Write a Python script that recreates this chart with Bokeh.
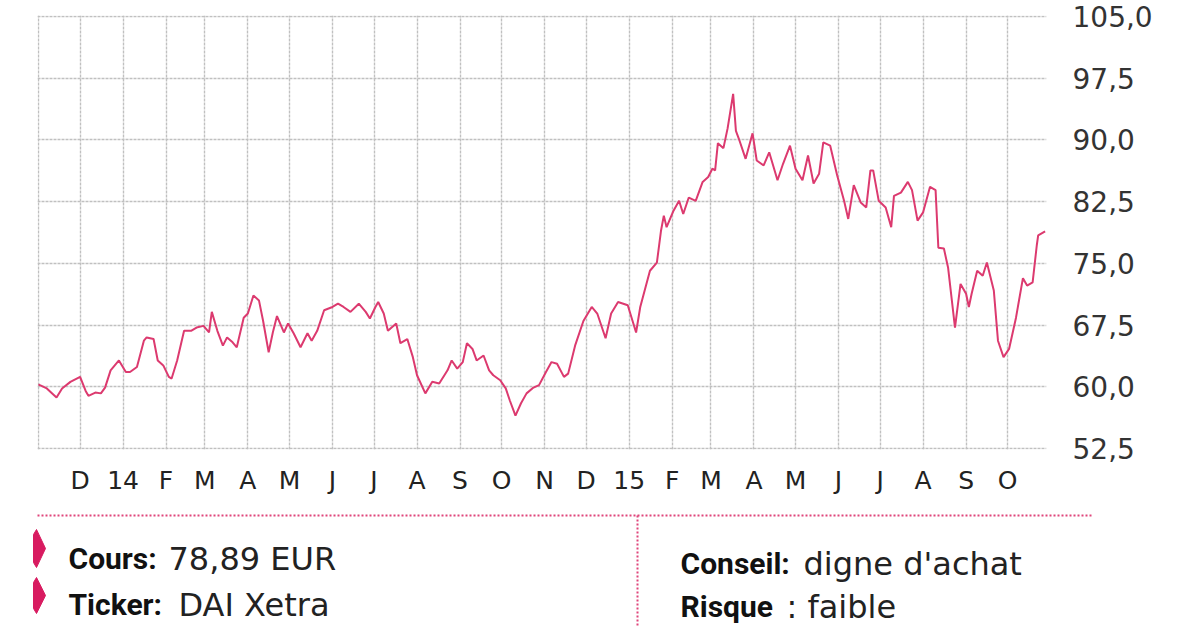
import pandas as pd
from bokeh.plotting import figure
from bokeh.layouts import column
from bokeh.models import Range1d, FixedTicker, CustomJSTickFormatter, ColumnDataSource
from bokeh.core.properties import value
from bokeh.embed import file_html
from bokeh.resources import INLINE

# ---------------- data ----------------
dates = ["2013-11-01","2013-11-02","2013-11-07","2013-11-14","2013-11-18","2013-11-24",
 "2013-12-01","2013-12-05","2013-12-07","2013-12-12","2013-12-16","2013-12-19","2013-12-23","2013-12-29",
 "2014-01-03","2014-01-06","2014-01-11","2014-01-16","2014-01-18","2014-01-23","2014-01-26","2014-01-30",
 "2014-02-03","2014-02-05","2014-02-09","2014-02-14","2014-02-19","2014-02-23","2014-02-28",
 "2014-03-04","2014-03-06","2014-03-10","2014-03-14","2014-03-17","2014-03-21","2014-03-24","2014-03-29",
 "2014-04-01","2014-04-05","2014-04-09","2014-04-12","2014-04-16","2014-04-19","2014-04-22","2014-04-27","2014-04-30",
 "2014-05-04","2014-05-09","2014-05-14","2014-05-17","2014-05-21","2014-05-26",
 "2014-06-01","2014-06-05","2014-06-09","2014-06-14","2014-06-20","2014-06-25","2014-06-28",
 "2014-07-02","2014-07-04","2014-07-08","2014-07-11","2014-07-17","2014-07-20","2014-07-25","2014-07-29",
 "2014-08-01","2014-08-07","2014-08-12","2014-08-17","2014-08-23","2014-08-26","2014-08-30",
 "2014-09-03","2014-09-06","2014-09-10","2014-09-13","2014-09-18","2014-09-22","2014-09-25","2014-09-30",
 "2014-10-04","2014-10-07","2014-10-11","2014-10-15","2014-10-19","2014-10-24","2014-10-28",
 "2014-11-02","2014-11-06","2014-11-10","2014-11-15","2014-11-18","2014-11-23","2014-11-29",
 "2014-12-05","2014-12-09","2014-12-15","2014-12-19","2014-12-24","2014-12-31",
 "2015-01-06","2015-01-09","2015-01-16","2015-01-21","2015-01-24","2015-01-26","2015-01-28",
 "2015-02-02","2015-02-06","2015-02-09","2015-02-13","2015-02-18","2015-02-23","2015-02-27",
 "2015-03-02","2015-03-04","2015-03-06","2015-03-10","2015-03-13","2015-03-17","2015-03-19","2015-03-21","2015-03-26","2015-03-31",
 "2015-04-03","2015-04-08","2015-04-12","2015-04-18","2015-04-22","2015-04-27",
 "2015-05-01","2015-05-06","2015-05-10","2015-05-14","2015-05-18","2015-05-21","2015-05-26","2015-05-31",
 "2015-06-05","2015-06-08","2015-06-12","2015-06-17","2015-06-21","2015-06-24","2015-06-26","2015-06-30",
 "2015-07-05","2015-07-09","2015-07-11","2015-07-16","2015-07-21","2015-07-24","2015-07-28",
 "2015-08-01","2015-08-06","2015-08-10","2015-08-12","2015-08-16","2015-08-19","2015-08-24","2015-08-28",
 "2015-09-01","2015-09-03","2015-09-05","2015-09-09","2015-09-13","2015-09-16","2015-09-21","2015-09-24","2015-09-28",
 "2015-10-02","2015-10-07","2015-10-12","2015-10-15","2015-10-19","2015-10-22","2015-10-23","2015-10-28"]

prices = [60.3, 60.2, 59.8, 58.7, 59.8, 60.6, 61.2, 59.5, 58.9, 59.3,
 59.2, 59.9, 62.0, 63.2, 61.8, 61.8, 62.4, 65.6, 66.0, 65.8,
 63.2, 62.6, 61.2, 61.0, 63.2, 66.8, 66.8, 67.2, 67.4, 66.6,
 69.1, 66.8, 65.0, 66.0, 65.4, 64.8, 68.4, 68.9, 71.1, 70.5,
 68.0, 64.2, 66.6, 68.6, 66.6, 67.7, 66.5, 64.8, 66.5, 65.6,
 66.8, 69.3, 69.7, 70.1, 69.7, 69.1, 70.1, 69.1, 68.3, 69.7,
 70.3, 68.9, 66.8, 67.7, 65.3, 65.8, 63.6, 61.4, 59.2, 60.6,
 60.4, 62.0, 63.2, 62.2, 63.0, 65.3, 64.6, 63.2, 63.8, 62.0,
 61.4, 60.8, 59.8, 58.3, 56.5, 58.0, 59.2, 59.9, 60.2, 61.8,
 63.0, 62.8, 61.2, 61.6, 65.0, 68.0, 69.7, 68.9, 65.9, 68.9,
 70.3, 69.9, 66.6, 69.7, 74.1, 75.1, 79.0, 80.8, 79.4, 81.4,
 82.6, 81.0, 83.0, 82.6, 84.9, 85.5, 86.5, 86.3, 89.6, 89.0,
 91.4, 95.6, 91.1, 90.2, 87.7, 90.8, 87.5, 86.9, 88.5, 85.1,
 87.1, 89.3, 86.5, 85.1, 88.1, 84.7, 85.9, 89.7, 89.3, 85.7,
 82.6, 80.4, 84.5, 82.4, 81.8, 86.3, 86.3, 82.6, 81.8, 79.4,
 83.2, 83.6, 84.9, 83.9, 80.2, 81.2, 84.3, 83.9, 76.9, 76.8,
 74.5, 67.2, 72.5, 71.3, 69.7, 71.3, 74.1, 73.5, 75.1, 71.7,
 65.6, 63.6, 64.6, 68.4, 73.2, 72.3, 72.7, 77.2, 78.4, 78.9]

tick_dates = ["2013-12-01","2014-01-01","2014-02-01","2014-03-01","2014-04-01","2014-05-01",
 "2014-06-01","2014-07-01","2014-08-01","2014-09-01","2014-10-01","2014-11-01","2014-12-01",
 "2015-01-01","2015-02-01","2015-03-01","2015-04-01","2015-05-01","2015-06-01","2015-07-01",
 "2015-08-01","2015-09-01","2015-10-01"]
tick_labels = ["D","14","F","M","A","M","J","J","A","S","O","N","D",
 "15","F","M","A","M","J","J","A","S","O"]
grid_dates = ["2013-11-01"] + tick_dates
y_ticks = [52.5, 60.0, 67.5, 75.0, 82.5, 90.0, 97.5, 105.0]
x_start, x_end = "2013-10-31 06:40", "2015-10-29"
y_start, y_end = 52.378, 105.122

info_labels = ["Cours:", "Ticker:", "Conseil:", "Risque"]
info_values = ["78,89 EUR", "DAI Xetra", "digne d'achat", ": faible"]

# ---------------- helpers ----------------
def ms(d):
    return float(pd.Timestamp(d).value // 10**6)

PINK = "#dc3a6f"
GRID = "#c0c0c0"
TEXT = "#222222"

# ---------------- chart ----------------
p = figure(frame_width=1009, frame_height=434,
           x_axis_type="datetime", y_axis_location="right",
           x_range=Range1d(pd.Timestamp(x_start), pd.Timestamp(x_end)),
           y_range=Range1d(y_start, y_end),
           min_border_left=37, min_border_top=15, min_border_right=146, min_border_bottom=51,
           output_backend="svg", toolbar_location=None)
p.outline_line_color = None
p.background_fill_color = "white"
p.border_fill_color = "white"

src = ColumnDataSource(dict(date=pd.to_datetime(dates), price=prices))
p.line(x="date", y="price", source=src, line_color=PINK, line_width=2)

# grids
p.xgrid.ticker = FixedTicker(ticks=[ms(d) for d in grid_dates])
p.ygrid.ticker = FixedTicker(ticks=y_ticks)
for g in (p.xgrid, p.ygrid):
    g.grid_line_color = GRID
    g.grid_line_width = 1.4
    g.grid_line_dash = "3 1"

# x axis
xa = p.xaxis[0]
xa.ticker = FixedTicker(ticks=[ms(d) for d in tick_dates])
xa.formatter = CustomJSTickFormatter(
    args=dict(tvals=[ms(d) for d in tick_dates], labs=tick_labels),
    code="""
    let best = 0;
    for (let j = 0; j < tvals.length; j++) {
        if (Math.abs(tvals[j] - tick) < Math.abs(tvals[best] - tick)) best = j;
    }
    return labs[best];
    """)
xa.axis_line_color = None
xa.major_tick_line_color = None
xa.minor_tick_line_color = None
xa.major_label_text_font = "DejaVu Sans"
xa.major_label_text_font_size = "25px"
xa.major_label_text_color = TEXT
xa.major_label_standoff = 10

# y axis (right)
ya = p.yaxis[0]
ya.ticker = FixedTicker(ticks=y_ticks)
ya.formatter = CustomJSTickFormatter(code="return tick.toFixed(1).replace('.', ',');")
ya.axis_line_color = None
ya.major_tick_line_color = None
ya.minor_tick_line_color = None
ya.major_label_text_font = "DejaVu Sans"
ya.major_label_text_font_size = "28px"
ya.major_label_text_color = "#333333"
ya.major_label_standoff = 20

# ---------------- info panel (page-pixel coordinates) ----------------
q = figure(width=1192, height=126, x_range=Range1d(0, 1192), y_range=Range1d(626, 500),
           x_axis_location=None, y_axis_location=None, min_border=0,
           output_backend="svg", toolbar_location=None)
q.grid.visible = False
q.outline_line_color = None
q.background_fill_color = "white"
q.border_fill_color = "white"

# dotted separators
q.segment(x0=[37, 637], y0=[515, 515], x1=[1092, 637], y1=[515, 626],
          line_color="#e0457b", line_width=2, line_dash="2 2")

# arrow markers
q.patches(xs=[[36, 45, 36, 33, 33], [36, 45, 36, 33, 33]],
          ys=[[529, 548, 567, 562, 534], [577, 595, 613, 608, 582]],
          fill_color="#d81b60", line_color="#d81b60")

lab_x = [68, 68, 680, 680]
lab_y = [558, 604, 563, 606]
val_x = [168, 178, 803, 786]
q.text(x=lab_x, y=lab_y, text=info_labels, text_font=value("Roboto"),
       text_font_style="bold", text_font_size="30px", text_color="#111111",
       text_baseline="alphabetic", text_align="left")
q.text(x=val_x, y=lab_y, text=info_values, text_font=value("DejaVu Sans"),
       text_font_size="32px", text_color=TEXT,
       text_baseline="alphabetic", text_align="left")

layout = column(p, column(q))
open("out.html", "w").write(file_html(layout, INLINE))
